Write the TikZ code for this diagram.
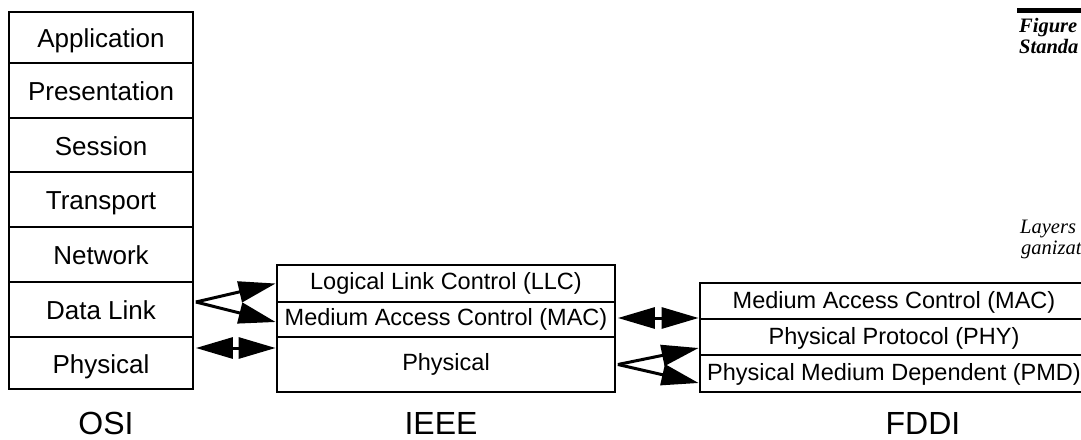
\documentclass[tikz,border=0pt]{standalone}
\usepackage{fontspec}
\setmainfont{Liberation Sans}
\newfontfamily\captionfont{Liberation Serif}
\usetikzlibrary{arrows.meta,calc}

\begin{document}
\begin{tikzpicture}[x=1pt,y=-1pt,
  rowbox/.style={draw, line width=2.8pt, inner sep=0pt, text depth=0pt},
  osirow/.style={rowbox, minimum width=184pt, text height=20pt,
    font=\fontsize{26}{30}\selectfont},
  ieeerow/.style={rowbox, minimum width=338pt, text height=12pt,
    font=\fontsize{23.5}{28}\selectfont},
  fddirow/.style={rowbox, minimum width=388pt, text height=14pt,
    font=\fontsize{23.5}{28}\selectfont},
  stackname/.style={anchor=base, inner sep=0pt, text depth=0pt,
    font=\fontsize{32}{36}\selectfont},
  tip/.tip={Triangle[length=37pt,width=21pt]},
  link/.style={line width=3pt, -tip},
  twoway/.style={line width=3pt, tip-tip},
  sidetext/.style={anchor=base west, inner sep=0pt,
    font=\captionfont\fontsize{20.5}{24}\selectfont}
]
\useasboundingbox (0,0) rectangle (1081,439);
\clip (0,0) rectangle (1081,439);

% OSI reference model
\node[osirow, minimum height=51pt] (osi-app)   at (101,37.5)  {Application};
\node[osirow, minimum height=55pt] (osi-pres)  at (101,90.5)  {Presentation};
\node[osirow, minimum height=54pt] (osi-sess)  at (101,145)   {Session};
\node[osirow, minimum height=55pt] (osi-trans) at (101,199.5) {Transport};
\node[osirow, minimum height=55pt] (osi-net)   at (101,254.5) {Network};
\node[osirow, minimum height=55pt] (osi-dl)    at (101,309.5) {Data Link};
\node[osirow, minimum height=52pt] (osi-phys)  at (101,363)   {Physical};

% IEEE 802 layers
\node[ieeerow, minimum height=37pt] (ieee-llc)  at (446,283.5) {Logical Link Control (LLC)};
\node[ieeerow, minimum height=35pt] (ieee-mac)  at (446,319.5) {Medium Access Control (MAC)};
\node[ieeerow, minimum height=55pt] (ieee-phys) at (446,364.5) {Physical};

% FDDI layers
\node[fddirow, minimum height=36pt] (fddi-mac) at (894,301)   {Medium Access Control (MAC)};
\node[fddirow, minimum height=36pt] (fddi-phy) at (894,337)   {Physical Protocol (PHY)};
\node[fddirow, minimum height=37pt] (fddi-pmd) at (894,373.5) {Physical Medium Dependent (PMD)};

% stack names
\node[stackname] (osi-name)  at (106,434) {OSI};
\node[stackname] (ieee-name) at (441,434) {IEEE};
\node[stackname] (fddi-name) at (923,434) {FDDI};

% OSI -> IEEE correspondences
\coordinate (dl-out) at ([xshift=1.5pt,yshift=7.5pt]osi-dl.east);
\draw[link] (dl-out) -- (ieee-llc.west);
\draw[link] (dl-out) -- ([yshift=-2.5pt]ieee-mac.west);
\coordinate (ph-out) at ([xshift=1.5pt,yshift=15pt]osi-phys.east);
\draw[twoway] (ph-out) -- (ph-out -| ieee-phys.west);

% IEEE -> FDDI correspondences
\coordinate (mac-out) at ([xshift=1.5pt,yshift=1.5pt]ieee-mac.east);
\draw[twoway] (mac-out) -- (mac-out -| fddi-mac.west);
\coordinate (iph-out) at ([xshift=1.5pt]ieee-phys.east);
\draw[link] (iph-out) -- ([yshift=-11pt]fddi-phy.west);
\draw[link] (iph-out) -- ([yshift=-9.5pt]fddi-pmd.west);

% caption margin
\fill (1017,8) rectangle (1090,13);
\node[sidetext] (fig-label) at (1019,32) {\bfseries\itshape Figure};
\node[sidetext] (fig-title) at (1019,53) {\bfseries\itshape Standa};
\node[sidetext] (side-1) at (1020,233) {\itshape Layers};
\node[sidetext] (side-2) at (1021,254) {\itshape ganizat};
\end{tikzpicture}
\end{document}
